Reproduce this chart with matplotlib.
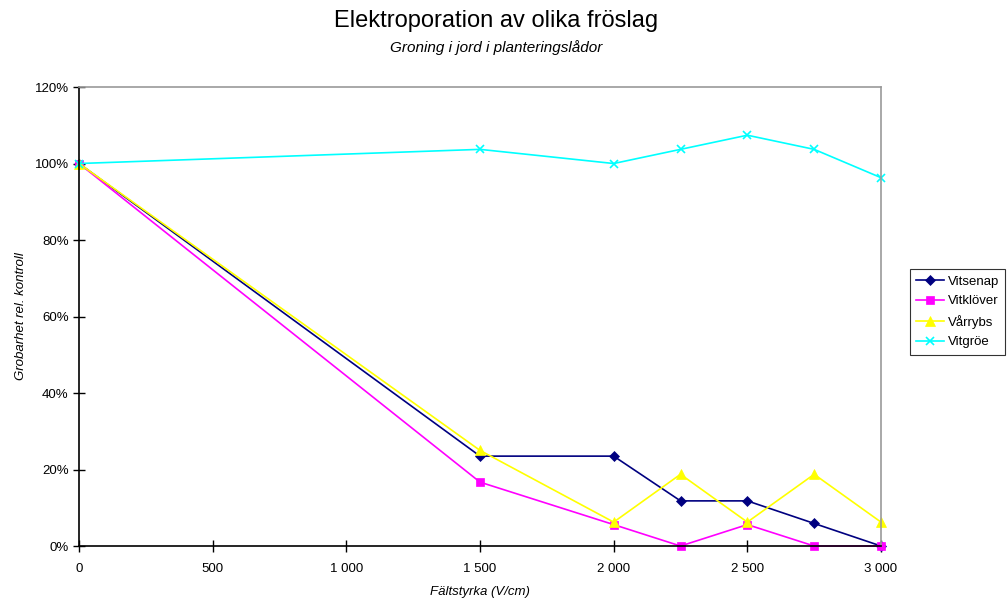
import matplotlib
matplotlib.use("Agg")
import matplotlib.pyplot as plt
from matplotlib.ticker import FuncFormatter, MultipleLocator

plt.rcParams['font.family'] = ['Liberation Sans', 'DejaVu Sans']

x = [0, 1500, 2000, 2250, 2500, 2750, 3000]
vitsenap = [100, 23.5, 23.5, 11.8, 11.8, 5.9, 0]
vitklover = [100, 16.7, 5.6, 0, 5.6, 0, 0]
varrybs = [100, 25.0, 6.25, 18.75, 6.25, 18.75, 6.25]
vitgroe = [100, 103.7, 100, 103.7, 107.4, 103.7, 96.3]

series = [
    ("Vitsenap", vitsenap, "#000080", "D", 5),
    ("Vitklöver", vitklover, "#FF00FF", "s", 6),
    ("Vårrybs", varrybs, "#FFFF00", "^", 7),
    ("Vitgröe", vitgroe, "#00FFFF", "x", 6),
]

fig = plt.figure(figsize=(10.08, 6.03), dpi=100)
ax = fig.add_axes([0.0784, 0.0945, 0.7956, 0.7612])

for name, vals, col, mk, ms in series:
    ax.plot(x, vals, color=col, marker=mk, markersize=ms, linewidth=1.2,
            markeredgewidth=1.2 if mk == "x" else 0.5, label=name, clip_on=False)

ax.set_xlim(0, 3000)
ax.set_ylim(0, 120)
ax.xaxis.set_major_locator(MultipleLocator(500))
ax.yaxis.set_major_locator(MultipleLocator(20))
ax.xaxis.set_major_formatter(FuncFormatter(lambda v, p: f"{int(v):,}".replace(",", " ")))
ax.yaxis.set_major_formatter(FuncFormatter(lambda v, p: f"{int(v)}%"))
ax.tick_params(direction='inout', length=8, width=1, labelsize=9.5, colors='black')
ax.tick_params(axis='x', pad=8)
for s in ['top', 'right']:
    ax.spines[s].set_color('#999999')
    ax.spines[s].set_linewidth(1.2)
for s in ['left', 'bottom']:
    ax.spines[s].set_color('black')
    ax.spines[s].set_linewidth(1.2)

ax.set_xlabel("Fältstyrka (V/cm)", fontsize=9.5, style='italic')
ax.set_ylabel("Grobarhet rel. kontroll", fontsize=9.5, style='italic')
ax.xaxis.set_label_coords(0.5, -0.088)
ax.yaxis.set_label_coords(-0.065, 0.5)

fig.text(0.4925, 0.965, "Elektroporation av olika fröslag", ha='center', va='center', fontsize=17)
fig.text(0.4925, 0.921, "Groning i jord i planteringslådor", ha='center', va='center', fontsize=11, style='italic')

leg = ax.legend(loc='center left', bbox_to_anchor=(1.036, 0.51), frameon=True, fancybox=False,
                edgecolor='black', fontsize=9.5, handlelength=2.1, borderpad=0.5,
                labelspacing=0.55, handletextpad=0.25, borderaxespad=0)
leg.get_frame().set_linewidth(0.8)

fig.savefig("out.png", dpi=100)
